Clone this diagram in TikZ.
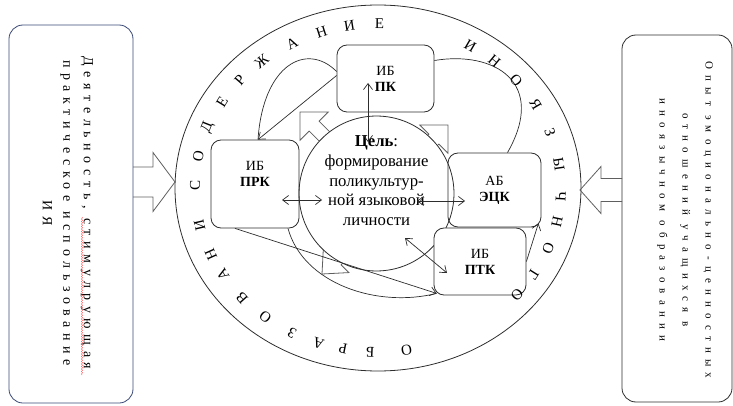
\documentclass[tikz,border=0pt]{standalone}
\usepackage{fontspec}
\setmainfont{Liberation Serif}
\usetikzlibrary{arrows.meta,positioning,shapes.geometric,decorations.pathmorphing}
\definecolor{linegray}{RGB}{45,45,45}
\definecolor{boxblue}{RGB}{60,75,120}
\definecolor{arrowgray}{RGB}{95,95,95}
\tikzset{
  sidebox/.style={rectangle, rounded corners=14pt, draw=linegray, line width=0.8pt},
  vtext/.style  ={rotate=-90, align=center, inner sep=0pt},
  ibox/.style   ={rectangle, rounded corners=10pt, draw=linegray, line width=0.8pt,
                  align=center, inner sep=0pt, font=\fontsize{14}{16}\selectfont},
  goalc/.style  ={circle, draw=linegray, line width=0.8pt, fill=white, minimum size=127pt,
                  align=center, inner sep=0pt, font=\fontsize{16.7}{19.75}\selectfont},
  ringch/.style ={inner sep=0pt, font=\fontsize{15}{15}\selectfont},
  link/.style   ={draw=linegray, line width=0.7pt},
  one/.style    ={link, -{Straight Barb[length=6pt,width=9pt]}},
  dbl/.style    ={link, {Straight Barb[length=6pt,width=9pt]}-{Straight Barb[length=6pt,width=9pt]}},
  blk/.style    ={draw=arrowgray, line width=0.8pt, line join=miter}
}
% tip, angle, length, half shaft, half head, head length
\newcommand{\blockarrow}[6]{%
  \draw[blk, shift={#1}, rotate=#2]
    (-#3,#4) -- (-#6,#4) -- (-#6,#5) -- (0,0) -- (-#6,-#5) -- (-#6,-#4) -- (-#3,-#4);}

\begin{document}
\begin{tikzpicture}[x=1pt,y=-1pt]
\useasboundingbox (0,0) rectangle (733,406);

% side boxes
\node[sidebox, draw=boxblue, minimum width=124pt, minimum height=378pt] (actbox) at (71,214) {};
\node[vtext, font=\fontsize{14}{20.5}\selectfont\addfontfeature{LetterSpace=40}] (acttext) at (68,213)
  {Деятельность, стимулрующая\\практическое использование\\ИЯ};
\draw[red!75, decorate, decoration={snake, amplitude=0.5pt, segment length=2.5pt}] (82,217) -- (82,375);

\node[sidebox, minimum width=110pt, minimum height=367pt] (expbox) at (677,218.5) {};
\node[vtext, font=\fontsize{11}{23}\selectfont\addfontfeature{LetterSpace=56}] (exptext) at (685,220)
  {Опыт эмоционально-ценностных\\отношений учащихся в\\иноязычном образовании};

% outer ring
\node[ellipse, draw=linegray, line width=0.8pt, minimum width=406pt, minimum height=366pt,
      inner sep=0pt] (ring) at (378,188) {};

% block arrows
\blockarrow{(175,182)}{0}{42}{15}{29.5}{22}
\blockarrow{(580,190)}{180}{42}{11.5}{23.5}{21}
\blockarrow{(300,112)}{135}{52}{7}{20}{20}
\blockarrow{(448,125)}{45}{38}{7}{20}{20}
\blockarrow{(322,274)}{225}{38}{7}{18}{20}

% centre and blocks
\node[goalc] (goal) at (376.5,193.5)
  {\textbf{Цель}:\\формирование\\поликультур-\\ной языковой\\личности\\ \strut};
\node[ibox, minimum width=97pt, minimum height=67pt] (pk) at (385.5,78.5) {ИБ\\\textbf{ПК}};
\node[ibox, minimum width=88pt, minimum height=88pt] (prk) at (255,184) {ИБ\\\textbf{ПРК}\\ \strut};
\node[ibox, minimum width=93pt, minimum height=74pt] (eck) at (494.5,190) {АБ\\\textbf{ЭЦК}};
\node[ibox, fill=white, minimum width=92pt, minimum height=67pt] (ptk) at (480,261.5) {ИБ\\\textbf{ПТК}};

% links
\draw[dbl] ([xshift=-8.5pt,yshift=51.5pt]goal.center) -- ([xshift=-17.5pt,yshift=-4.5pt]pk.center);
\draw[dbl] ([xshift=27pt,yshift=-16pt]prk.center) -- ([xshift=-54.5pt,yshift=-6.5pt]goal.center);
\draw[dbl] ([xshift=40.5pt,yshift=-7.5pt]goal.center) -- ([xshift=-29.5pt,yshift=-11pt]eck.center);
\draw[dbl] ([xshift=28.5pt,yshift=-44.5pt]goal.center) -- ([xshift=-33pt,yshift=-11.5pt]ptk.center);

\draw[one] ([yshift=3pt]pk.west) -- ([xshift=3pt]prk.north);
\draw[link] ([yshift=7pt]pk.west) .. controls +(-30,-30) and +(5,-75) .. ([xshift=3pt]prk.north);
\draw[link] ([yshift=18pt]pk.east) .. controls +(60,-10) and +(40,-70) .. ([xshift=13pt]eck.north);
\draw[one] (ptk.east) -- ([xshift=-3pt,yshift=4pt]eck.south east);
\draw[one] ([xshift=-20pt]prk.south) -- ([xshift=3pt,yshift=2pt]ptk.south west);
\draw[link] ([xshift=33pt]prk.south) .. controls +(15,55) and +(-60,15) .. ([xshift=3pt,yshift=2pt]ptk.south west);

% ring text
\foreach \t/\l [count=\i] in {179/С,169/О,158.5/Д,148.5/Е,139/Р,129.5/Ж,118/А,108/Н,99/И,89.5/Е,
    59.7/И,50.5/Н,41/О,30.5/Я,20/З,8.5/Ы,-3/Ч,-12/Н,-21.5/О,-32/Г,-40.5/О,
    -81/О,-92.5/Б,-101/Р,-109/А,-118/З,-128/О,-138/В,-148/А,-156/Н,-167/И}
  \node[ringch, rotate=\t-90] (ch\i) at ([shift={(\t:183pt and 164pt)}]ring.center) {\l};
\end{tikzpicture}
\end{document}
